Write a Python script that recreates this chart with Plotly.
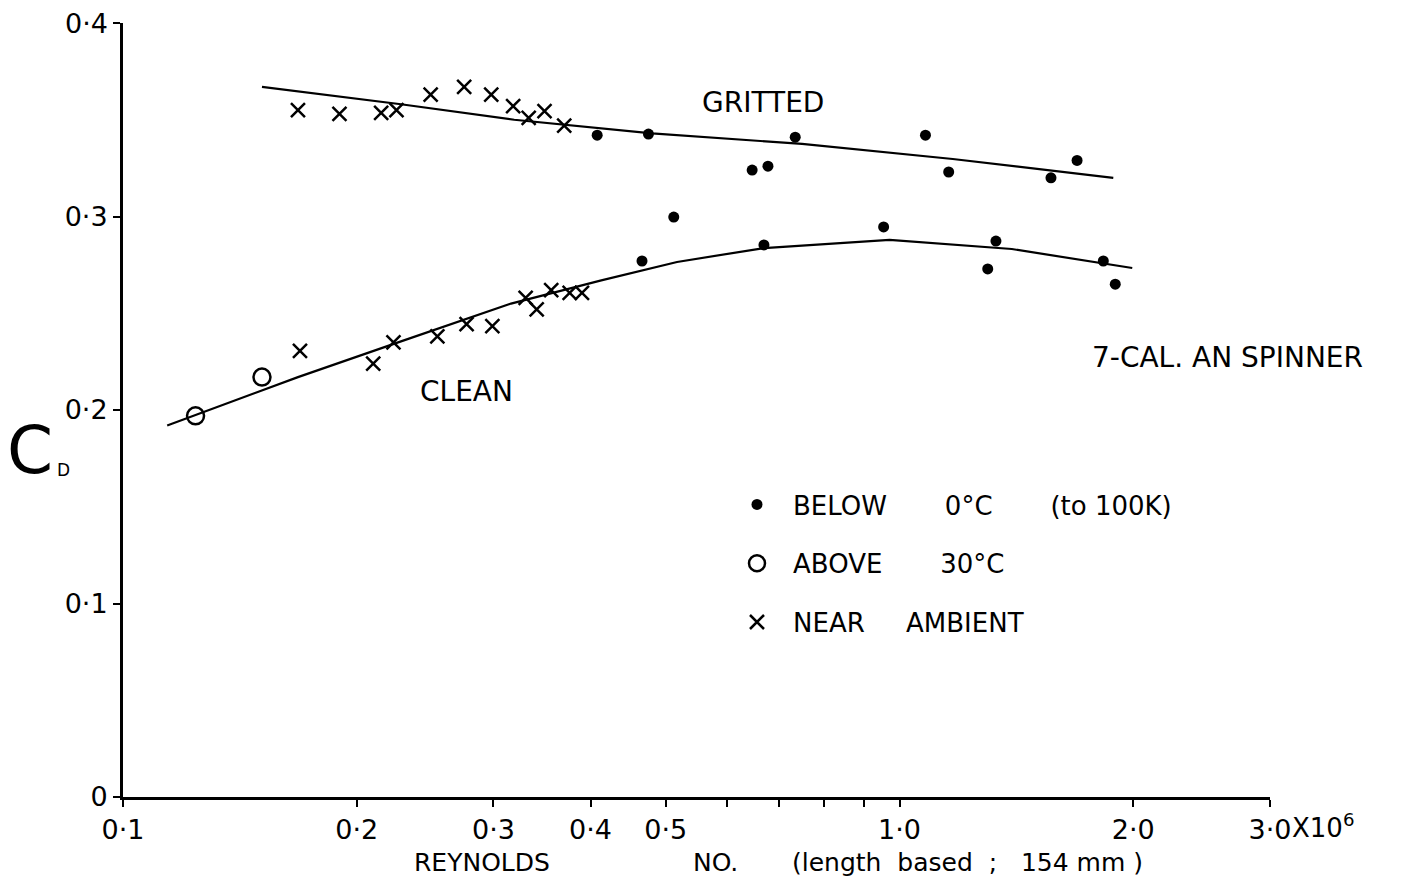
import plotly.graph_objects as go

# ---- data (Reynolds number in millions, drag coefficient) ----
# GRITTED spinner
gritted_cross_re = [0.168, 0.190, 0.215, 0.225, 0.249, 0.275, 0.298, 0.318, 0.333, 0.349, 0.370]
gritted_cross_cd = [0.355, 0.353, 0.3535, 0.355, 0.363, 0.367, 0.363, 0.357, 0.351, 0.3545, 0.347]
gritted_dot_re = [0.408, 0.475, 0.646, 0.677, 0.734, 1.080, 1.157, 1.567, 1.693]
gritted_dot_cd = [0.342, 0.3426, 0.324, 0.326, 0.341, 0.342, 0.323, 0.320, 0.329]
gritted_fit_re = [0.151, 0.228, 0.319, 0.480, 0.749, 1.171, 1.885]
gritted_fit_cd = [0.367, 0.358, 0.350, 0.343, 0.3375, 0.3297, 0.320]

# CLEAN spinner
clean_circle_re = [0.124, 0.151]
clean_circle_cd = [0.197, 0.217]
clean_cross_re = [0.169, 0.210, 0.223, 0.254, 0.277, 0.299, 0.330, 0.341, 0.356, 0.376, 0.390]
clean_cross_cd = [0.2305, 0.224, 0.235, 0.238, 0.2444, 0.2434, 0.258, 0.252, 0.262, 0.2605, 0.2605]
clean_dot_re = [0.466, 0.512, 0.669, 0.954, 1.299, 1.331, 1.830, 1.896]
clean_dot_cd = [0.277, 0.2997, 0.2853, 0.2946, 0.2729, 0.2873, 0.277, 0.265]
clean_fit_re = [0.114, 0.168, 0.230, 0.316, 0.413, 0.517, 0.669, 0.971, 1.395, 1.994]
clean_fit_cd = [0.192, 0.217, 0.236, 0.255, 0.267, 0.2765, 0.2837, 0.2879, 0.2832, 0.2734]

# axis ticks
x_tickvals = [0.1, 0.2, 0.3, 0.4, 0.5, 1.0, 2.0, 3.0]
x_ticktext = ["0·1", "0·2", "0·3", "0·4", "0·5", "1·0", "2·0", "3·0"]
x_minor_tickvals = [0.6, 0.7, 0.8, 0.9]
y_tickvals = [0, 0.1, 0.2, 0.3]
y_ticktext = ["0", "0·1", "0·2", "0·3"]
y_top_tick = 0.4
y_top_label = "0·4"

FONT = "DejaVu Sans"
NB = "\u00a0"

fig = go.Figure()

# fitted curves
for xs, ys in [(gritted_fit_re, gritted_fit_cd), (clean_fit_re, clean_fit_cd)]:
    fig.add_trace(go.Scatter(x=xs, y=ys, mode="lines", showlegend=False,
                             line=dict(color="black", width=2.2), hoverinfo="skip"))

# markers
fig.add_trace(go.Scatter(
    x=gritted_dot_re + clean_dot_re, y=gritted_dot_cd + clean_dot_cd, mode="markers",
    name="BELOW" + NB * 7 + "0°C" + NB * 7 + "(to 100K)", legendgroup="a",
    marker=dict(symbol="circle", size=11, color="black")))
fig.add_trace(go.Scatter(
    x=clean_circle_re, y=clean_circle_cd, mode="markers",
    name="ABOVE" + NB * 7 + "30°C", legendgroup="b",
    marker=dict(symbol="circle-open", size=17, color="black", line=dict(width=2.5))))
fig.add_trace(go.Scatter(
    x=gritted_cross_re + clean_cross_re, y=gritted_cross_cd + clean_cross_cd, mode="markers",
    name="NEAR" + NB * 5 + "AMBIENT", legendgroup="c",
    marker=dict(symbol="x-thin-open", size=14, color="black", line=dict(width=2.5))))

# page body has an 8 px margin: work in screen pixels and convert
OFF = 8
W, H = 1402, 881
L, R, T, B = 123 - OFF, W - (1270 - OFF), 23 - OFF, H - (797 - OFF)

def px(xs):
    return (xs - OFF - L) / (W - L - R)

def py(ys):
    return (H - B - (ys - OFF)) / (H - T - B)

ann = []
def add(text, x, y, size=28, xanchor="center", yanchor="middle", xref="paper", yref="paper"):
    ann.append(dict(text=text, x=x, y=y, xref=xref, yref=yref,
                    showarrow=False, xanchor=xanchor, yanchor=yanchor,
                    font=dict(family=FONT, size=size, color="black")))

add("GRITTED", px(763), py(102))
add("CLEAN", px(466), py(392))
add("7-CAL. AN SPINNER", px(1090), py(357), xanchor="left")
add("C", px(30), py(450), size=66)
add("D", px(63), py(470), size=17)
add("REYNOLDS", px(482), py(862), size=25)
add("NO.", px(715), py(862), size=25)
add("(length" + NB * 2 + "based" + NB * 2 + ";" + NB * 3 + "154 mm )", px(790), py(862), size=25, xanchor="left")
add("X10<sup>6</sup>", px(1290), py(826), size=26, xanchor="left")
# top y tick label (kept as annotation so it is not clipped at the page edge)
add(y_top_label, px(110), y_top_tick, size=27, xanchor="right", yref="y")

fig.update_layout(
    width=W, height=H,
    margin=dict(l=L, r=R, t=T, b=B, autoexpand=False),
    paper_bgcolor="white", plot_bgcolor="white",
    font=dict(family=FONT, size=28, color="black"),
    showlegend=True,
    legend=dict(x=px(721), y=py(481), xanchor="left", yanchor="top",
                bgcolor="rgba(0,0,0,0)", font=dict(family=FONT, size=26),
                itemwidth=62, tracegroupgap=22),
    annotations=ann,
    xaxis=dict(type="log", range=[-1, 0.47712], tickmode="array",
               tickvals=x_tickvals, ticktext=x_ticktext, automargin=False,
               minor=dict(tickmode="array", tickvals=x_minor_tickvals, ticks="outside",
                          ticklen=7, tickwidth=2, tickcolor="black", showgrid=False),
               showline=True, linecolor="black", linewidth=3, mirror=False,
               ticks="outside", ticklen=7, tickwidth=2, tickcolor="black",
               showgrid=False, zeroline=False,
               tickfont=dict(family=FONT, size=27)),
    yaxis=dict(range=[0, 0.4], tickmode="array", automargin=False,
               tickvals=y_tickvals, ticktext=y_ticktext,
               minor=dict(tickmode="array", tickvals=[y_top_tick], ticks="outside",
                          ticklen=7, tickwidth=2, tickcolor="black", showgrid=False),
               showline=True, linecolor="black", linewidth=3, mirror=False,
               ticks="outside", ticklen=7, tickwidth=2, tickcolor="black",
               showgrid=False, zeroline=False,
               tickfont=dict(family=FONT, size=27)),
)

fig.write_html("out.html")
